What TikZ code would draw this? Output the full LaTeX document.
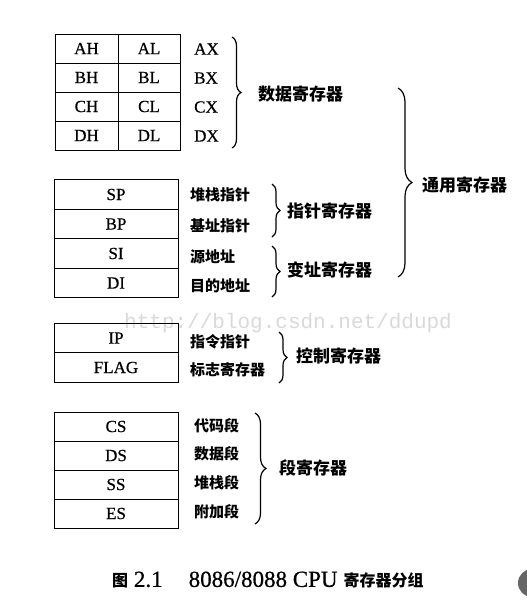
\documentclass[tikz,border=0pt]{standalone}
\usepackage{fontspec}
\setmainfont{Liberation Serif}[FakeBold=0.6]
\newfontfamily\cjk{Noto Sans CJK SC}
\newfontfamily\wmfont{Liberation Mono}
\usepackage{tikz}
\usetikzlibrary{decorations.pathreplacing, positioning}
\tikzset{
  % Register cells
  regcell/.style={
    rectangle, draw=black, line width=1pt, inner sep=0pt,
    minimum width=#1, minimum height=29.5pt,
    font=\fontsize{17}{17}\selectfont,
  },
  regcell/.default={124pt},
  % Names beside the cells
  reglabel/.style={anchor=west, inner sep=0pt, font=\cjk\bfseries\fontsize{15}{15}\selectfont},
  latinlabel/.style={anchor=west, inner sep=0pt, font=\fontsize{17}{17}\selectfont},
  % Group names
  grpname/.style={anchor=west, inner sep=0pt, font=\cjk\bfseries\fontsize{17}{17}\selectfont},
  % Braces
  grpbrace/.style={decorate, decoration={brace, amplitude=#1}, line width=1.2pt},
  grpbrace/.default={8pt},
}

\begin{document}
\begin{tikzpicture}[x=1pt, y=-1pt]
  \useasboundingbox (0,0) rectangle (527,616);

  % Watermark
  \node[anchor=west, inner sep=0pt, text=black!15,
        font=\wmfont\fontsize{21}{21}\selectfont] (wmark) at (124,323)
        {http://blog.csdn.net/ddupd};

  % Data registers
  \node[regcell=63pt, minimum height=29pt] (ah) at (86.5,48.5) {AH};
  \node[regcell=62pt, minimum height=29pt] (al) at (149,48.5) {AL};
  \node[regcell=63pt, minimum height=29pt] (bh) at (86.5,77.5) {BH};
  \node[regcell=62pt, minimum height=29pt] (bl) at (149,77.5) {BL};
  \node[regcell=63pt, minimum height=29pt] (ch) at (86.5,106.5) {CH};
  \node[regcell=62pt, minimum height=29pt] (cl) at (149,106.5) {CL};
  \node[regcell=63pt, minimum height=29pt] (dh) at (86.5,135.5) {DH};
  \node[regcell=62pt, minimum height=29pt] (dl) at (149,135.5) {DL};

  \node[latinlabel] (ax) at (194,49) {AX};
  \node[latinlabel] (bx) at (194,78) {BX};
  \node[latinlabel] (cx) at (194,107) {CX};
  \node[latinlabel] (dx) at (194,136) {DX};

  \coordinate (datatop) at (232,37);
  \coordinate (databot) at (232,148);
  \draw[grpbrace=9pt] (datatop) -- (databot);
  \node[grpname] (data) at (258,94) {数据寄存器};

  % Pointer and index registers
  \node[regcell] (sp) at (116,194.5) {SP};
  \node[regcell] (bp) at (116,224) {BP};
  \node[regcell] (si) at (116,253.5) {SI};
  \node[regcell] (di) at (116,283) {DI};

  \node[reglabel] (spname) at (190,195) {堆栈指针};
  \node[reglabel] (bpname) at (190,226) {基址指针};
  \node[reglabel] (siname) at (190,257) {源地址};
  \node[reglabel] (diname) at (190,286) {目的地址};

  \coordinate (ptrtop) at (272,184);
  \coordinate (ptrbot) at (272,237);
  \draw[grpbrace] (ptrtop) -- (ptrbot);
  \node[grpname] (ptr) at (287,211) {指针寄存器};

  \coordinate (idxtop) at (272,246);
  \coordinate (idxbot) at (272,297);
  \draw[grpbrace] (idxtop) -- (idxbot);
  \node[grpname] (idx) at (287,270) {变址寄存器};

  % General purpose
  \coordinate (gentop) at (398,88);
  \coordinate (genbot) at (398,277);
  \draw[grpbrace=14pt] (gentop) -- (genbot);
  \node[grpname] (gen) at (422,185) {通用寄存器};

  % Control registers
  \node[regcell] (ip) at (116,338) {IP};
  \node[regcell] (flag) at (116,367.5) {FLAG};

  \node[reglabel] (ipname) at (190,342) {指令指针};
  \node[reglabel] (flagname) at (190,370) {标志寄存器};

  \coordinate (ctltop) at (279,332);
  \coordinate (ctlbot) at (279,383);
  \draw[grpbrace] (ctltop) -- (ctlbot);
  \node[grpname] (ctl) at (296,356) {控制寄存器};

  % Segment registers
  \node[regcell, minimum height=29pt] (cs) at (116,426.5) {CS};
  \node[regcell, minimum height=29pt] (ds) at (116,455.5) {DS};
  \node[regcell, minimum height=29pt] (ss) at (116,484.5) {SS};
  \node[regcell, minimum height=29pt] (es) at (116,513.5) {ES};

  \node[reglabel] (csname) at (194,426) {代码段};
  \node[reglabel] (dsname) at (194,454) {数据段};
  \node[reglabel] (ssname) at (194,483) {堆栈段};
  \node[reglabel] (esname) at (194,512) {附加段};

  \coordinate (segtop) at (255,413);
  \coordinate (segbot) at (255,524);
  \draw[grpbrace=11pt] (segtop) -- (segbot);
  \node[grpname] (seg) at (279,468) {段寄存器};

  % Caption
  \node[anchor=west, inner sep=0pt, font=\fontsize{23}{23}\selectfont] (caption) at (112,580)
    {{\cjk\bfseries\fontsize{16}{16}\selectfont 图} 2.1\hspace{26pt}8086/8088 CPU\hspace{6pt}{\cjk\bfseries\fontsize{16}{16}\selectfont 寄存器分组}};

  % Corner mark
  \fill[black!60] (532,583) circle (14);
\end{tikzpicture}
\end{document}
